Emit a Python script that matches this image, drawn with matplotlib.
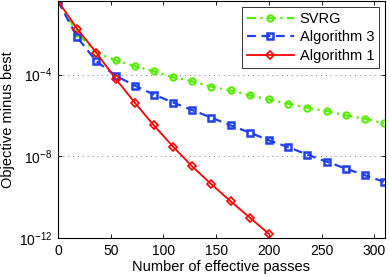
import matplotlib
matplotlib.use("Agg")
import matplotlib.pyplot as plt
import numpy as np

plt.rcParams['font.family'] = ['Liberation Sans', 'DejaVu Sans']
plt.rcParams['mathtext.fontset'] = 'custom'
plt.rcParams['mathtext.rm'] = 'Liberation Sans'
plt.rcParams['mathtext.it'] = 'Liberation Sans:italic'

# effective passes at each outer iteration
passes = [i * 200 / 11 for i in range(18)]

# log10(objective minus best)
svrg_log = [-0.4, -1.95, -2.93, -3.30, -3.59, -3.84, -4.13, -4.33, -4.60,
            -4.78, -5.02, -5.22, -5.43, -5.62, -5.78, -6.00, -6.16, -6.39]
alg3_log = [-0.4, -2.18, -3.35, -4.05, -4.54, -4.98, -5.37, -5.74, -6.11,
            -6.49, -6.84, -7.22, -7.55, -7.92, -8.26, -8.60, -8.93, -9.25]
alg1_log = [-0.4, -1.76, -2.93, -4.20, -5.37, -6.49, -7.53, -8.50, -9.37,
            -10.2, -11.0, -11.8]

svrg = 10.0 ** np.array(svrg_log)
alg3 = 10.0 ** np.array(alg3_log)
alg1 = 10.0 ** np.array(alg1_log)

fig = plt.figure(figsize=(3.89, 2.77), dpi=100)
ax = fig.add_axes([58 / 389, 1 - 238 / 277, 327 / 389, 237 / 277])

ax.semilogy(passes, svrg, linestyle='-.', color='#55ee00', lw=1.6,
            marker='o', ms=4.5, mfc='none', mew=1.5, label='SVRG',
            dashes=(4, 2, 1, 2))
ax.semilogy(passes, alg3, linestyle='--', color='#2040f0', lw=1.6,
            marker='s', ms=4.5, mfc='none', mew=1.8, label='Algorithm 3',
            dashes=(4, 2.5))
ax.semilogy(passes[:len(alg1)], alg1, linestyle='-', color='red', lw=1.3,
            marker='D', ms=4.5, mfc='none', mew=1.2, label='Algorithm 1')

ax.set_xlim(0, 310)
ax.set_ylim(1e-12, 10 ** -0.4)
ax.set_xticks([0, 50, 100, 150, 200, 250, 300])
ax.set_yticks([1e-12, 1e-8, 1e-4])
ax.yaxis.set_minor_locator(matplotlib.ticker.NullLocator())
ax.tick_params(direction='in', top=True, right=True, length=3,
               labelsize=10, width=0.6, pad=4)
ax.yaxis.grid(True, linestyle=(0, (1, 4)), color='gray', lw=0.7)

ax.set_xlabel('Number of effective passes', fontsize=10.5, labelpad=2)
ax.set_ylabel('Objective minus best', fontsize=10.5, labelpad=3)

leg = ax.legend(loc='upper right', fontsize=10.5, fancybox=False,
                handlelength=3.2, borderaxespad=0.4, labelspacing=0.3,
                borderpad=0.35, handletextpad=0.4)
leg.get_frame().set_edgecolor('black')
leg.get_frame().set_linewidth(0.7)

for s in ax.spines.values():
    s.set_linewidth(0.8)

fig.savefig('out.png', dpi=100)
